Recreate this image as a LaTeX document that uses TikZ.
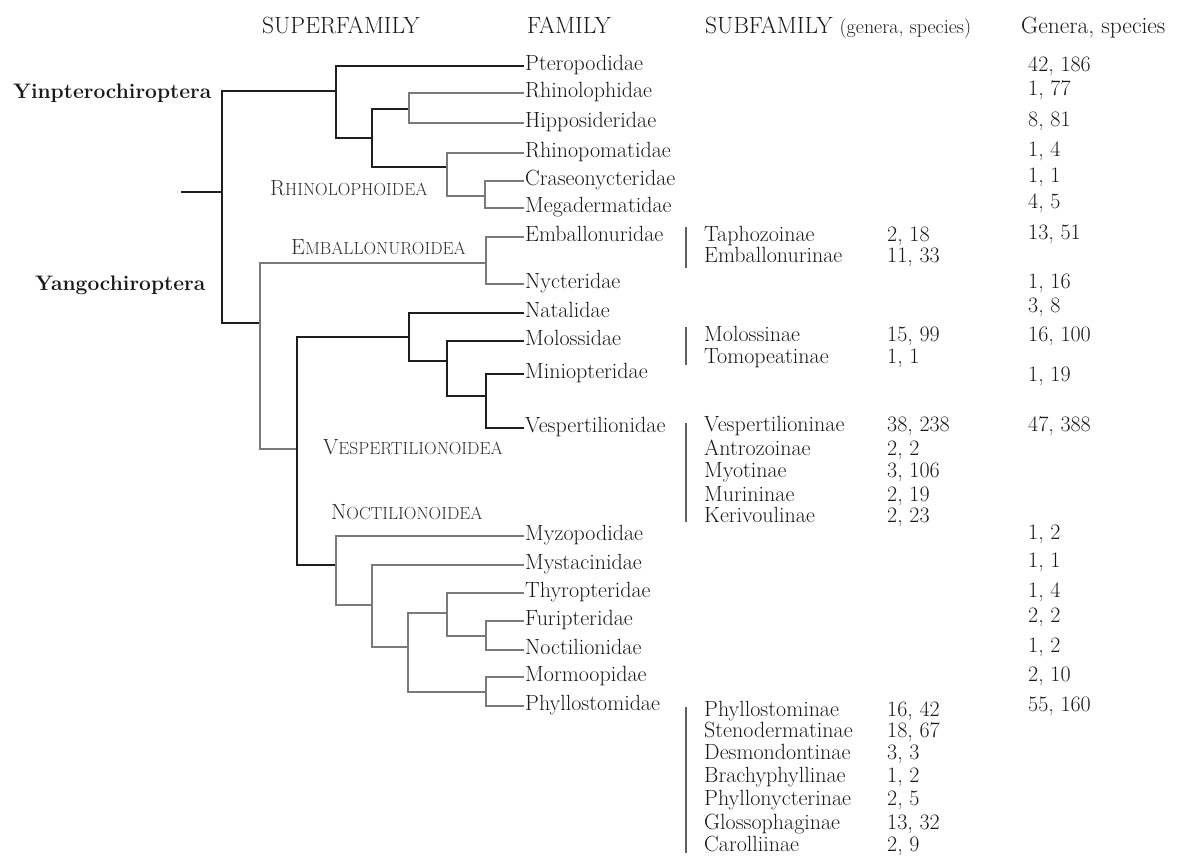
\documentclass[tikz,border=0pt]{standalone}
\usepackage{fontspec}
\newcommand\famfont{\fontsize{22}{26}\selectfont\addfontfeature{FakeBold=1}}
\newcommand\hdfont{\fontsize{23.5}{28}\selectfont\addfontfeature{FakeBold=1}}
\newcommand\smallhd{\fontsize{20}{24}\selectfont\addfontfeature{FakeBold=1}}
\newcommand\scsmall{\fontsize{17.5}{21}\selectfont\addfontfeature{FakeBold=1}}
\newcommand\cladefont{\fontsize{21}{25}\selectfont\bfseries}
\newcommand\mysc[2]{#1{\scsmall #2}}
\tikzset{
  dk/.style={draw=black!88, line width=1.6pt, line cap=rect},
  lt/.style={draw=black!52, line width=1.3pt, line cap=rect},
  barline/.style={draw=black!62, line width=1.4pt},
  txt/.style={anchor=west, inner xsep=0pt, inner ysep=0pt, text height=13.5pt, text depth=4pt, font=\famfont, text=black!90},
  fam/.style={txt, inner xsep=2pt},
  hd/.style={anchor=west, inner sep=0pt, text height=16pt, text depth=4pt, font=\hdfont, text=black!90},
  clade/.style={anchor=west, inner sep=0pt, text height=14pt, text depth=4pt, font=\cladefont, text=black!90},
  sup/.style={anchor=west, inner sep=0pt, text height=14pt, text depth=0pt, font=\famfont, text=black!82}
}
\begin{document}
\begin{tikzpicture}[x=1pt,y=-1pt]
\useasboundingbox (0,0) rectangle (1189,857);
% headers
\node[hd] (hsup) at (262,27) {SUPERFAMILY};
\node[hd] (hfam) at (527,27) {FAMILY};
\node[hd] (hsub) at (705,27) {SUBFAMILY {\smallhd (genera, species)}};
\node[hd] (hgen) at (1021,27) {Genera, species};
% clade labels
\node[clade] (yinl) at (13,93) {Yinpterochiroptera};
\node[clade] (yanl) at (35,285) {Yangochiroptera};
% superfamily labels
\node[sup] (rhl) at (270,188) {\mysc{R}{HINOLOPHOIDEA}};
\node[sup] (eml) at (291,247) {\mysc{E}{MBALLONUROIDEA}};
\node[sup] (vel) at (323,447) {\mysc{V}{ESPERTILIONOIDEA}};
\node[sup] (nol) at (331,512) {\mysc{N}{OCTILIONOIDEA}};
% families
\node[fam] (pter) at (523,66) {Pteropodidae};
\node[fam] (rhin) at (523,93) {Rhinolophidae};
\node[fam] (hipp) at (523,123) {Hipposideridae};
\node[fam] (rpom) at (523,153) {Rhinopomatidae};
\node[fam] (cras) at (523,181) {Craseonycteridae};
\node[fam] (mega) at (523,208) {Megadermatidae};
\node[fam] (emba) at (523,237) {Emballonuridae};
\node[fam] (nyct) at (523,284) {Nycteridae};
\node[fam] (nata) at (523,313) {Natalidae};
\node[fam] (molo) at (523,341) {Molossidae};
\node[fam] (mini) at (523,374) {Miniopteridae};
\node[fam] (vesp) at (523,428) {Vespertilionidae};
\node[fam] (myzo) at (523,536) {Myzopodidae};
\node[fam] (myst) at (523,565) {Mystacinidae};
\node[fam] (thyr) at (523,593) {Thyropteridae};
\node[fam] (furi) at (523,621) {Furipteridae};
\node[fam] (noctf) at (523,650) {Noctilionidae};
\node[fam] (morm) at (523,677) {Mormoopidae};
\node[fam] (phyl) at (523,706) {Phyllostomidae};
% tree coordinates
\coordinate (stub) at (182,192);
\coordinate (root) at (222,192);
\coordinate (yin) at (336,91);
\coordinate (rh1) at (372,138);
\coordinate (rhh) at (409,109);
\coordinate (rhm) at (447,167);
\coordinate (cm) at (485,196);
\coordinate (yan) at (260,323);
\coordinate (emb) at (486,263);
\coordinate (vn) at (297,449);
\coordinate (ves) at (409,337);
\coordinate (mv) at (447,361);
\coordinate (mvv) at (486,396);
\coordinate (noc) at (336,565);
\coordinate (n2) at (372,605);
\coordinate (n3) at (408,647);
\coordinate (n4) at (447,613);
\coordinate (n6) at (486,636);
\coordinate (n5) at (486,692);
% Yinpterochiroptera
\draw[dk] (stub) -- (root);
\draw[dk] (root) |- (yin);
\draw[dk] (root) |- (yan);
\draw[dk] (yin) |- (pter.west);
\draw[dk] (yin) |- (rh1);
\draw[dk] (rh1) |- (rhh);
\draw[dk] (rh1) |- (rhm);
\draw[lt] (rhh) |- (rhin.west);
\draw[lt] (rhh) |- (hipp.west);
\draw[lt] (rhm) |- (rpom.west);
\draw[lt] (rhm) |- (cm);
\draw[lt] (cm) |- (cras.west);
\draw[lt] (cm) |- (mega.west);
% Yangochiroptera
\draw[lt] (yan) |- (emb);
\draw[lt] (yan) |- (vn);
\draw[lt] (emb) |- (emba.west);
\draw[lt] (emb) |- (nyct.west);
\draw[dk] (vn) |- (ves);
\draw[dk] (vn) |- (noc);
\draw[dk] (ves) |- (nata.west);
\draw[dk] (ves) |- (mv);
\draw[dk] (mv) |- (molo.west);
\draw[dk] (mv) |- (mvv);
\draw[dk] (mvv) |- (mini.west);
\draw[dk] (mvv) |- (vesp.west);
\draw[lt] (noc) |- (myzo.west);
\draw[lt] (noc) |- (n2);
\draw[lt] (n2) |- (myst.west);
\draw[lt] (n2) |- (n3);
\draw[lt] (n3) |- (n4);
\draw[lt] (n3) |- (n5);
\draw[lt] (n4) |- (thyr.west);
\draw[lt] (n4) |- (n6);
\draw[lt] (n6) |- (furi.west);
\draw[lt] (n6) |- (noctf.west);
\draw[lt] (n5) |- (morm.west);
\draw[lt] (n5) |- (phyl.west);
% subfamily bars
\coordinate (b1t) at (686,227); \coordinate (b1b) at (686,268);
\coordinate (b2t) at (686,327); \coordinate (b2b) at (686,365);
\coordinate (b3t) at (686,423); \coordinate (b3b) at (686,522);
\coordinate (b4t) at (686,707); \coordinate (b4b) at (686,853);
\draw[barline] (b1t) -- (b1b);
\draw[barline] (b2t) -- (b2b);
\draw[barline] (b3t) -- (b3b);
\draw[barline] (b4t) -- (b4b);
% subfamilies
\node[txt] (s1) at (704,237) {Taphozoinae};      \node[txt] (c1) at (887,237) {2, 18};
\node[txt] (s2) at (704,258) {Emballonurinae};   \node[txt] (c2) at (887,258) {11, 33};
\node[txt] (s3) at (704,337) {Molossinae};       \node[txt] (c3) at (887,337) {15, 99};
\node[txt] (s4) at (704,359) {Tomopeatinae};     \node[txt] (c4) at (887,359) {1, 1};
\node[txt] (s5) at (704,427) {Vespertilioninae}; \node[txt] (c5) at (887,427) {38, 238};
\node[txt] (s6) at (704,451) {Antrozoinae};      \node[txt] (c6) at (887,451) {2, 2};
\node[txt] (s7) at (704,473) {Myotinae};         \node[txt] (c7) at (887,473) {3, 106};
\node[txt] (s8) at (704,497) {Murininae};        \node[txt] (c8) at (887,497) {2, 19};
\node[txt] (s9) at (704,518) {Kerivoulinae};     \node[txt] (c9) at (887,518) {2, 23};
\node[txt] (s10) at (704,712) {Phyllostominae};  \node[txt] (c10) at (887,712) {16, 42};
\node[txt] (s11) at (704,733) {Stenodermatinae}; \node[txt] (c11) at (887,733) {18, 67};
\node[txt] (s12) at (704,755) {Desmondontinae};  \node[txt] (c12) at (887,755) {3, 3};
\node[txt] (s13) at (704,778) {Brachyphyllinae}; \node[txt] (c13) at (887,778) {1, 2};
\node[txt] (s14) at (704,801) {Phyllonycterinae};\node[txt] (c14) at (887,801) {2, 5};
\node[txt] (s15) at (704,825) {Glossophaginae};  \node[txt] (c15) at (887,825) {13, 32};
\node[txt] (s16) at (704,847) {Carolliinae};     \node[txt] (c16) at (887,847) {2, 9};
% genera, species column
\node[txt] (g1) at (1028,67) {42, 186};
\node[txt] (g2) at (1028,91) {1, 77};
\node[txt] (g3) at (1028,122) {8, 81};
\node[txt] (g4) at (1028,152) {1, 4};
\node[txt] (g5) at (1028,178) {1, 1};
\node[txt] (g6) at (1028,204) {4, 5};
\node[txt] (g7) at (1028,235) {13, 51};
\node[txt] (g8) at (1028,284) {1, 16};
\node[txt] (g9) at (1028,308) {3, 8};
\node[txt] (g10) at (1028,337) {16, 100};
\node[txt] (g11) at (1028,377) {1, 19};
\node[txt] (g12) at (1028,427) {47, 388};
\node[txt] (g13) at (1028,535) {1, 2};
\node[txt] (g14) at (1028,563) {1, 1};
\node[txt] (g15) at (1028,593) {1, 4};
\node[txt] (g16) at (1028,618) {2, 2};
\node[txt] (g17) at (1028,648) {1, 2};
\node[txt] (g18) at (1028,677) {2, 10};
\node[txt] (g19) at (1028,707) {55, 160};
\end{tikzpicture}
\end{document}
